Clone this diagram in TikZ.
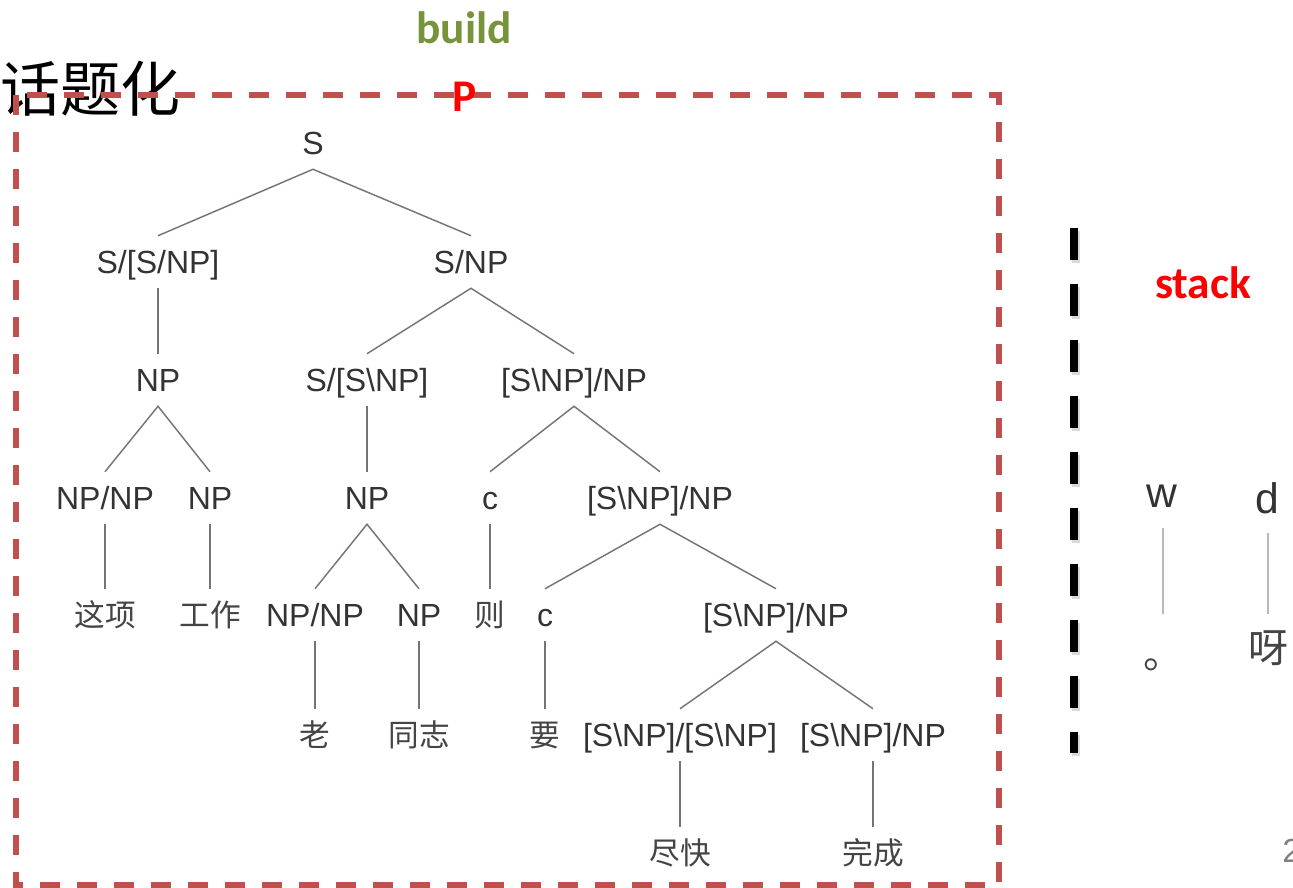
\documentclass[tikz,border=0pt]{standalone}
\usepackage{fontspec}
\setmainfont{Liberation Sans}
\newfontfamily\cjkfont{Noto Sans CJK SC}
\newfontfamily\calfont{Carlito}
\definecolor{txt}{HTML}{333333}
\definecolor{leafgray}{HTML}{444444}
\definecolor{edgegray}{HTML}{757575}
\definecolor{boxred}{HTML}{C0504D}
\definecolor{buildgreen}{HTML}{77933C}
\begin{document}
\begin{tikzpicture}[x=0.75pt,y=-0.75pt,
  cat/.style={font=\fontsize{24}{28}\selectfont, text=txt, inner sep=0pt,
    text height=17.2pt, text depth=0pt, minimum height=39pt},
  leaf/.style={cat, font=\cjkfont\fontsize{23}{28}\selectfont, text=leafgray},
  edge/.style={draw=edgegray, line width=1.1pt},
  bigword/.style={font=\calfont\bfseries\fontsize{34}{40}\selectfont, inner sep=0pt, anchor=base},
  stackcat/.style={font=\fontsize{32}{36}\selectfont, text=txt, inner sep=0pt, anchor=base},
  stackleaf/.style={font=\cjkfont\fontsize{30}{36}\selectfont, text=leafgray, inner sep=0pt},
  stackline/.style={draw=gray!55, line width=0.8pt}
]
\useasboundingbox (0,0) rectangle (1293,888);

% title
\node[font=\cjkfont\fontsize{45}{50}\selectfont, inner sep=0pt] (title) at (91,89) {话题化};

% dashed red box
\draw[draw=boxred, line width=4.5pt, dash pattern=on 15pt off 12.75pt] (16,95) rectangle (999,885);

% labels build, P, stack
\node[bigword, text=buildgreen] (build) at (464,44) {build};
\node[bigword, text=red] (P) at (465,112) {P};
\node[bigword, text=red] (stack) at (1203,298) {stack};

% black dashed separator with faint shadow
\draw[line width=6pt, draw=gray, opacity=0.3, dash pattern=on 24pt off 18pt] (1076,231) -- (1076,756);
\draw[line width=6pt, dash pattern=on 24pt off 18pt] (1074,228) -- (1074,753);

% tree
\node[cat] (S) at (313,143) {S};
\node[cat] (A) at (158,262) {S/[S/NP]};
\node[cat] (B) at (471,262) {S/NP};
\node[cat] (A1) at (158,380) {NP};
\node[cat] (B1) at (367,380) {S/[S\textbackslash NP]};
\node[cat] (B2) at (574,380) {[S\textbackslash NP]/NP};
\node[cat] (A11) at (105,498) {NP/NP};
\node[cat] (A12) at (210,498) {NP};
\node[cat] (B11) at (367,498) {NP};
\node[cat] (B21) at (490,498) {c};
\node[cat] (B22) at (660,498) {[S\textbackslash NP]/NP};
\node[leaf] (L1) at (105,615) {这项};
\node[leaf] (L2) at (210,615) {工作};
\node[cat] (B111) at (315,615) {NP/NP};
\node[cat] (B112) at (419,615) {NP};
\node[leaf] (L3) at (490,615) {则};
\node[cat] (B221) at (545,615) {c};
\node[cat] (B222) at (776,615) {[S\textbackslash NP]/NP};
\node[leaf] (L4) at (315,735) {老};
\node[leaf] (L5) at (419,735) {同志};
\node[leaf] (L6) at (545,735) {要};
\node[cat] (B2221) at (680,735) {[S\textbackslash NP]/[S\textbackslash NP]};
\node[cat] (B2222) at (873,735) {[S\textbackslash NP]/NP};
\node[leaf] (L7) at (680,853) {尽快};
\node[leaf] (L8) at (873,853) {完成};

\draw[edge] (A.north) -- (S.south) -- (B.north);
\draw[edge] (A.south) -- (A1.north);
\draw[edge] (B1.north) -- (B.south) -- (B2.north);
\draw[edge] (A11.north) -- (A1.south) -- (A12.north);
\draw[edge] (B1.south) -- (B11.north);
\draw[edge] (B21.north) -- (B2.south) -- (B22.north);
\draw[edge] (A11.south) -- (L1.north);
\draw[edge] (A12.south) -- (L2.north);
\draw[edge] (B111.north) -- (B11.south) -- (B112.north);
\draw[edge] (B21.south) -- (L3.north);
\draw[edge] (B221.north) -- (B22.south) -- (B222.north);
\draw[edge] (B111.south) -- (L4.north);
\draw[edge] (B112.south) -- (L5.north);
\draw[edge] (B221.south) -- (L6.north);
\draw[edge] (B2221.north) -- (B222.south) -- (B2222.north);
\draw[edge] (B2221.south) -- (L7.north);
\draw[edge] (B2222.south) -- (L8.north);

% stack / buffer items
\node[stackcat] (w) at (1162,507) {w};
\node[stackcat] (d) at (1267,513) {d};
\node[stackleaf, anchor=base west] (stop) at (1143,668) {。};
\node[stackleaf] (ya) at (1268,648) {呀};
\draw[stackline] (w.base) ++(1,21) -- ++(0,86);
\draw[stackline] (d.base) ++(1,20) -- ++(0,81);

% page number (cut off)
\node[anchor=west, text=gray, font=\fontsize{25}{30}\selectfont, inner sep=0pt] (pg) at (1282,851) {2};
\end{tikzpicture}
\end{document}
